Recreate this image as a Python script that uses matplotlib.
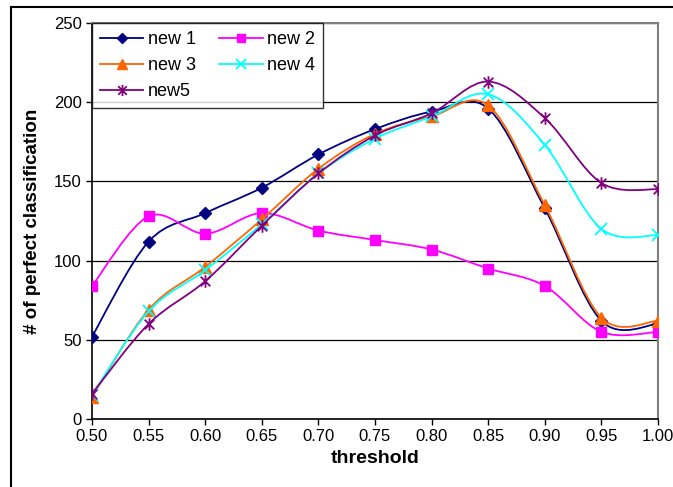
import matplotlib
matplotlib.use("Agg")
import matplotlib.pyplot as plt
from matplotlib.path import Path
from matplotlib.patches import PathPatch
from matplotlib.lines import Line2D
import numpy as np

plt.rcParams['font.family'] = ['Liberation Sans', 'DejaVu Sans']

thresholds = [0.50, 0.55, 0.60, 0.65, 0.70, 0.75, 0.80, 0.85, 0.90, 0.95, 1.00]
new1 = [52, 112, 130, 146, 167, 183, 194, 196, 133, 62, 60]
new2 = [84, 128, 117, 130, 119, 113, 107, 95, 84, 55, 55]
new3 = [14, 69, 96, 126, 158, 180, 191, 198, 135, 64, 62]
new4 = [15, 68, 94, 123, 155, 177, 191, 205, 173, 120, 116]
new5 = [16, 60, 87, 122, 155, 179, 193, 213, 190, 149, 145]
labels = ["new 1", "new 2", "new 3", "new 4", "new5"]

# excel-style asterisk: x plus a vertical bar
star = Path([(-1, -1), (1, 1), (-1, 1), (1, -1), (0, -1.3), (0, 1.3)],
            [Path.MOVETO, Path.LINETO, Path.MOVETO, Path.LINETO, Path.MOVETO, Path.LINETO])

styles = [
    dict(color='#000080', marker='D', ms=6, mfc='#000080'),
    dict(color='#FF00FF', marker='s', ms=7, mfc='#FF00FF'),
    dict(color='#FF6600', marker='^', ms=8, mfc='#FF6600'),
    dict(color='#00FFFF', marker='x', ms=8, mew=1.3),
    dict(color='#800080', marker=star, ms=9, mew=1.3),
]


def smooth_path(x, y):
    # bezier segments like excel's smoothed line
    pts = np.column_stack([x, y]).astype(float)
    n = len(pts)
    verts = [pts[0]]
    codes = [Path.MOVETO]
    for i in range(n - 1):
        p0 = pts[max(i - 1, 0)]
        p1 = pts[i]
        p2 = pts[i + 1]
        p3 = pts[min(i + 2, n - 1)]
        verts += [p1 + (p2 - p0) / 6, p2 - (p3 - p1) / 6, p2]
        codes += [Path.CURVE4] * 3
    return Path(verts, codes)


fig = plt.figure(figsize=(6.73, 4.87), dpi=100)
ax = fig.add_axes([0.1367, 0.1396, 0.8410, 0.8132])

handles = []
for i, (vals, st) in enumerate(zip([new1, new2, new3, new4, new5], styles)):
    patch = PathPatch(smooth_path(thresholds, vals), fill=False, edgecolor=st['color'],
                      lw=1.3, zorder=3 + i)
    ax.add_patch(patch)
    ax.plot(thresholds, vals, ls='none', marker=st['marker'], ms=st['ms'],
            color=st['color'], mfc=st.get('mfc', 'none'), mec=st['color'],
            mew=st.get('mew', 1), zorder=3 + i)
    handles.append(Line2D([], [], color=st['color'], lw=1.3, marker=st['marker'],
                          ms=st['ms'] - 1, mfc=st.get('mfc', 'none'), mec=st['color'],
                          mew=st.get('mew', 1)))

ax.set_xlim(0.50, 1.00)
ax.set_ylim(0, 250)
ax.set_xticks(thresholds)
ax.set_xticklabels([f"{t:.2f}" for t in thresholds])
ax.set_yticks([0, 50, 100, 150, 200, 250])
ax.tick_params(labelsize=12, direction='out', length=4, width=1)
ax.yaxis.grid(True, color='black', lw=0.9)
ax.set_axisbelow(True)
for s in ['top', 'right']:
    ax.spines[s].set_color('#808080')
    ax.spines[s].set_linewidth(1.5)
for s in ['left', 'bottom']:
    ax.spines[s].set_linewidth(1.2)

ax.set_xlabel("threshold", fontsize=14, fontweight='bold', labelpad=4)
ax.set_ylabel("# of perfect classification", fontsize=13.5, fontweight='bold', labelpad=9)

# excel fills the legend row by row, matplotlib column by column
order = [0, 2, 4, 1, 3]
leg = ax.legend([handles[k] for k in order], [labels[k] for k in order],
                loc='upper left', bbox_to_anchor=(0, 1), ncol=2,
                fontsize=13, frameon=True, fancybox=False, borderaxespad=0,
                handlelength=2.4, handletextpad=0.25, columnspacing=1.3,
                labelspacing=0.5, borderpad=0.45)
leg.get_frame().set_edgecolor('black')
leg.get_frame().set_linewidth(1.0)
leg.set_zorder(10)

# outer chart frame
fig.add_artist(Line2D([11 / 673, 1], [1 - 7 / 487] * 2, color='black', lw=1.5,
                      transform=fig.transFigure))
fig.add_artist(Line2D([11 / 673] * 2, [0, 1 - 7 / 487], color='black', lw=1.5,
                      transform=fig.transFigure))

fig.savefig("out.png", dpi=100)
